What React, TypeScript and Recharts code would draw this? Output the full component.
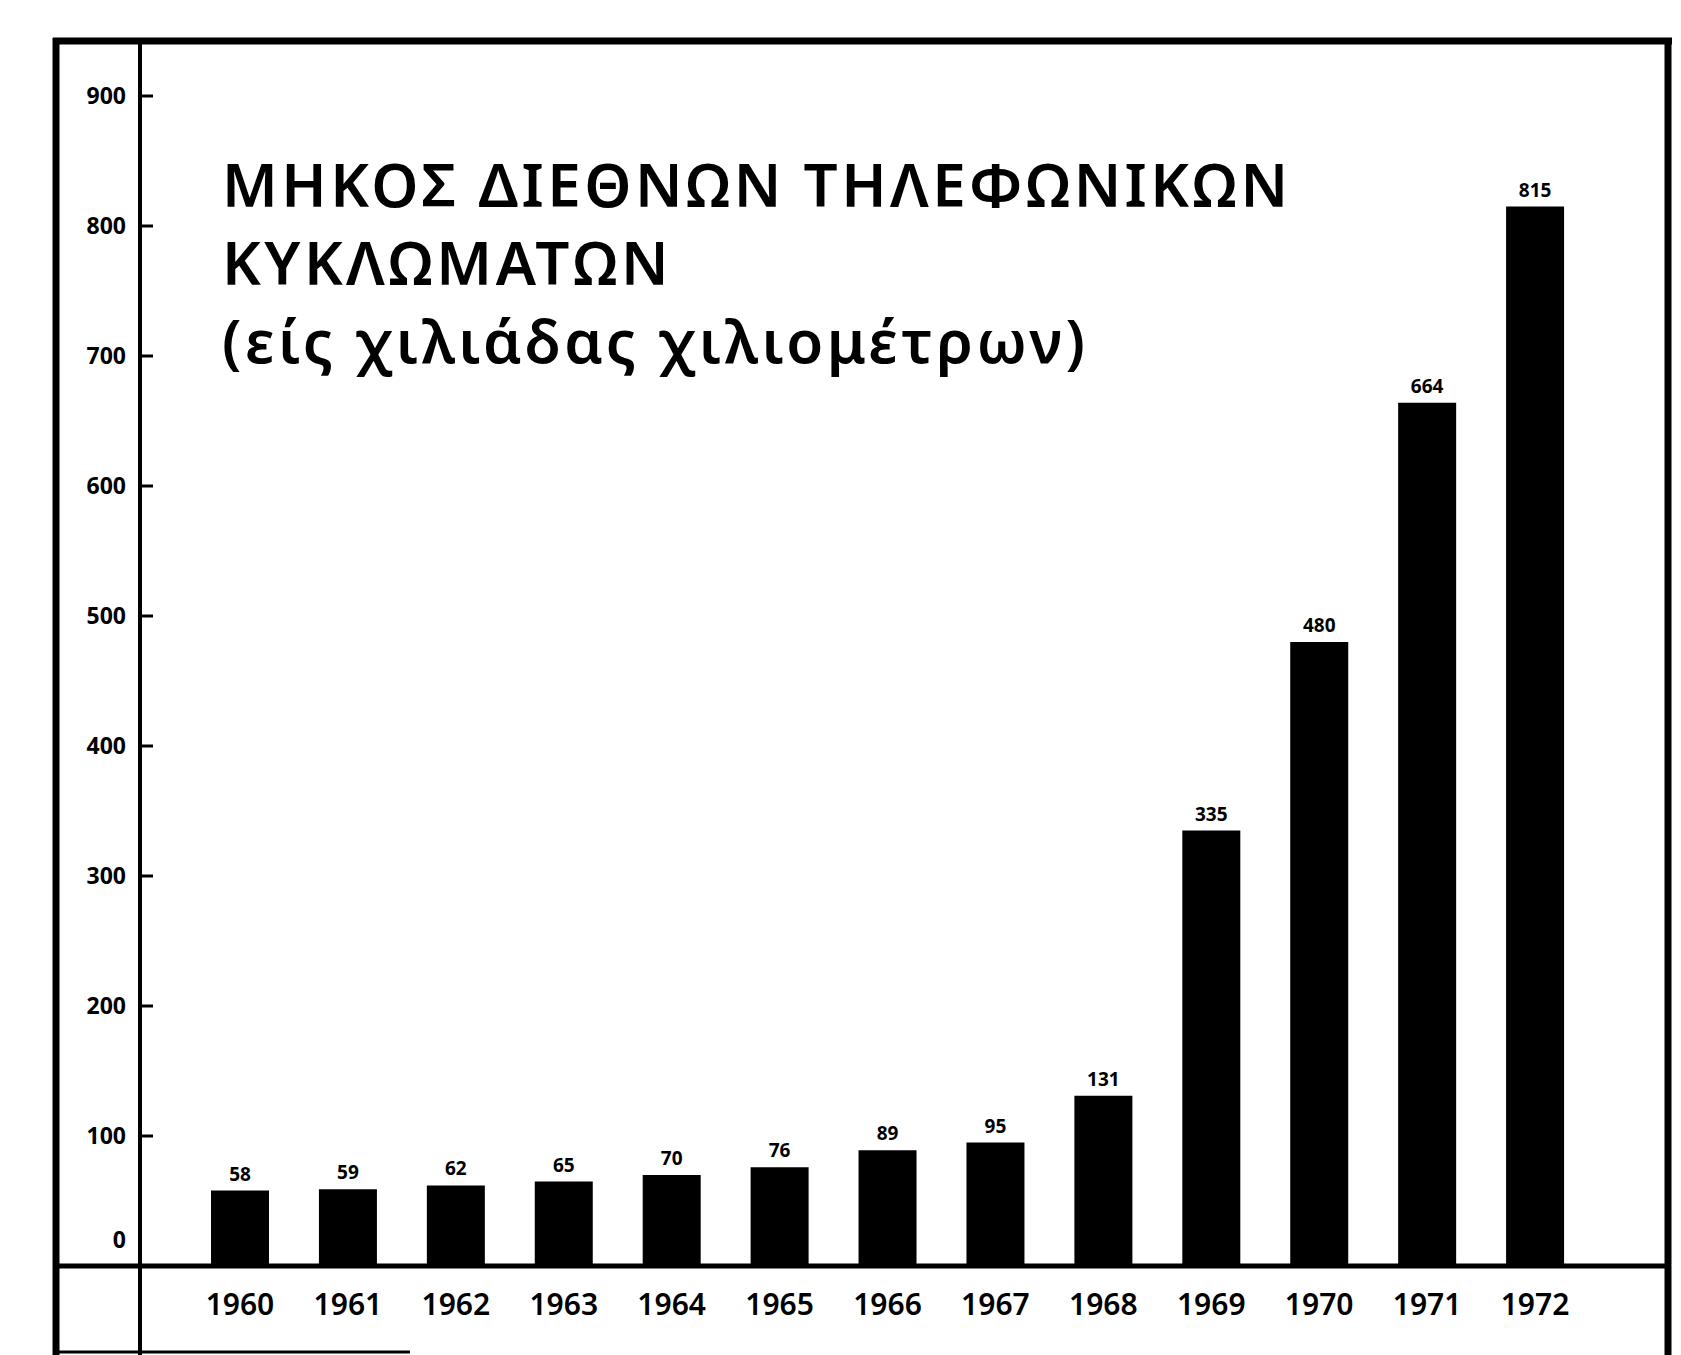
import { BarChart, Bar, XAxis, YAxis, LabelList } from 'recharts';

const years = ['1960', '1961', '1962', '1963', '1964', '1965', '1966', '1967', '1968', '1969', '1970', '1971', '1972'];
const circuitKm = [58, 59, 62, 65, 70, 76, 89, 95, 131, 335, 480, 664, 815];
const yTicks = [0, 100, 200, 300, 400, 500, 600, 700, 800, 900];
const titleLines = ['ΜΗΚΟΣ ΔΙΕΘΝΩΝ ΤΗΛΕΦΩΝΙΚΩΝ', 'ΚΥΚΛΩΜΑΤΩΝ', '(είς χιλιάδας χιλιομέτρων)'];

const data = years.map((year, i) => ({ year, value: circuitKm[i] }));

const FONT = '"Noto Sans", "DejaVu Sans", sans-serif';

// y tick: label left of the axis, short mark pointing into the plot
function YTick(props: any) {
  const { x, y, payload } = props;
  const isZero = payload.value === 0;
  return (
    <g>
      {!isZero && <line x1={x + 13} x2={x + 27} y1={y} y2={y} stroke="#000" strokeWidth={3} />}
      <text
        x={x}
        y={isZero ? y - 26 : y}
        dy="0.36em"
        textAnchor="end"
        fontFamily={FONT}
        fontSize={23}
        fontWeight={700}
        fill="#000"
      >
        {payload.value}
      </text>
    </g>
  );
}

export default function App() {
  return (
    <div style={{ position: 'absolute', left: 0, top: 0, width: 1681, height: 1355, background: '#fff' }}>
      <BarChart
        width={1681}
        height={1355}
        data={data}
        margin={{ top: 96, right: 13, bottom: 0, left: 0 }}
        barSize={58}
        style={{ position: 'absolute', left: 0, top: 0 }}
      >
        <XAxis
          dataKey="year"
          height={89}
          padding={{ left: 47, right: 79 }}
          axisLine={{ stroke: '#000', strokeWidth: 5 }}
          tickLine={false}
          tickSize={0}
          tickMargin={28}
          tick={{ fill: '#000', fontSize: 30, fontWeight: 600, fontFamily: FONT }}
          interval={0}
        />
        <YAxis
          width={139}
          domain={[0, 900]}
          ticks={yTicks}
          axisLine={false}
          tickLine={false}
          tickSize={0}
          tickMargin={13}
          tick={<YTick />}
          interval={0}
        />
        <Bar dataKey="value" fill="#000" isAnimationActive={false}>
          <LabelList
            dataKey="value"
            position="top"
            offset={10}
            fill="#000"
            fontSize={19}
            fontWeight={700}
            fontFamily={FONT}
          />
        </Bar>
      </BarChart>
      <svg
        width={1681}
        height={1355}
        style={{ position: 'absolute', left: 0, top: 0, pointerEvents: 'none' }}
      >
        {/* outer frame */}
        <line x1={53} x2={1672} y1={41} y2={41} stroke="#000" strokeWidth={7} />
        <line x1={56} x2={56} y1={38} y2={1355} stroke="#000" strokeWidth={7} />
        <line x1={1668} x2={1668} y1={38} y2={1355} stroke="#000" strokeWidth={7} />
        {/* inner y axis line, full height */}
        <line x1={140} x2={140} y1={41} y2={1355} stroke="#000" strokeWidth={4} />
        {/* baseline extension into the label column */}
        <line x1={56} x2={140} y1={1266} y2={1266} stroke="#000" strokeWidth={5} />
        <line x1={56} x2={410} y1={1352} y2={1352} stroke="#000" strokeWidth={3} />
        {titleLines.map((t, i) => (
          <text
            key={t}
            x={222}
            y={207 + i * 78}
            fontFamily={FONT}
            fontSize={60}
            fontWeight={600}
            letterSpacing={3.5}
            fill="#000"
          >
            {t}
          </text>
        ))}
      </svg>
    </div>
  );
}
